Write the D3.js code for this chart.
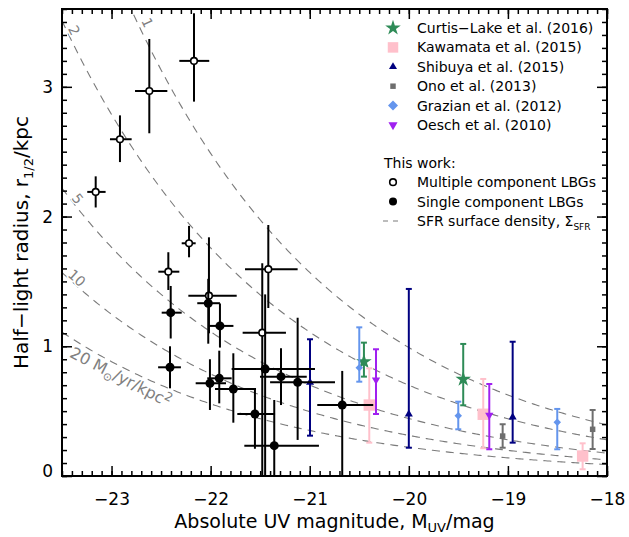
<!DOCTYPE html>
<meta charset="utf-8">
<head>
<script src="https://d3js.org/d3.v7.min.js"></script>
<style>
    html, body { margin: 0; padding: 0; background: #fff; }
    text { font-family: "DejaVu Sans", sans-serif; fill: #000; }
    .frame { fill: none; stroke: #000; stroke-width: 2px; }
    .axis path { display: none; }
    .axis line { stroke: #000; stroke-width: 1.5px; }
    .axis text { font-size: 17px; }
    .sfr { fill: none; stroke: #7a7a7a; stroke-width: 1.1px; stroke-dasharray: 8,6; }
    .sfr-label { font-size: 14px; fill: #808080; }
    .ebar { stroke-width: 2px; }
    .legend text { font-size: 14px; }
</style>
</head>
<body>
<div id="chart"></div>
<script>

/****************************
 data
****************************/
// This work: [M_UV, r, M_low, M_high, r_low, r_high]
var multiComp = [
    [-23.16, 2.19, -23.245, -23.06, 2.07, 2.31],
    [-22.915, 2.596, -23.016, -22.797, 2.42, 2.78],
    [-22.619, 2.968, -22.763, -22.437, 2.642, 3.369],
    [-22.168, 3.20, -22.316, -22.014, 2.886, 3.567],
    [-22.218, 1.794, -22.292, -22.151, 1.686, 1.928],
    [-22.427, 1.575, -22.528, -22.316, 1.434, 1.725],
    [-22.017, 1.39, -22.225, -21.737, 1.10, 1.84],
    [-21.418, 1.594, -21.653, -21.122, 1.295, 1.935],
    [-21.479, 1.105, -21.677, -21.24, 0.0, 1.64]
];
var singleComp = [
    [-22.024, 1.332, -22.135, -21.906, 1.02, 1.52],
    [-21.906, 1.157, -22.024, -21.77, 0.99, 1.33],
    [-22.403, 1.259, -22.494, -22.292, 1.06, 1.465],
    [-22.41, 0.838, -22.53, -22.30, 0.676, 1.0],
    [-22.007, 0.715, -22.151, -21.845, 0.509, 0.90],
    [-21.913, 0.753, -22.034, -21.788, 0.56, 0.966],
    [-21.771, 0.671, -21.956, -21.542, 0.411, 0.946],
    [-21.553, 0.478, -21.731, -21.35, 0.21, 0.67],
    [-21.45, 0.825, -21.788, -20.947, 0.0, 1.40],
    [-21.29, 0.766, -21.502, -21.03, 0.547, 0.985],
    [-21.122, 0.722, -21.40, -20.745, 0.278, 1.22],
    [-21.358, 0.234, -21.66, -20.907, 0.0, 0.586],
    [-20.672, 0.547, -20.924, -20.359, 0.0, 0.81]
];

// literature: [M_UV, r, r_low, r_high]
var curtisLake = [[-20.453, 0.881, 0.766, 1.028], [-19.451, 0.746, 0.545, 1.018]];
var kawamata   = [[-20.399, 0.547, 0.257, 0.830], [-19.249, 0.476, 0.214, 0.748], [-18.246, 0.154, 0.052, 0.252]];
var shibuya    = [[-20.997, 0.722, 0.311, 1.054], [-20.0, 0.476, 0.218, 1.442], [-18.952, 0.453, 0.257, 1.035]];
var ono        = [[-19.053, 0.308, 0.218, 0.399], [-18.145, 0.360, 0.208, 0.509]];
var grazian    = [[-20.5, 0.835, 0.727, 1.146], [-19.501, 0.465, 0.360, 0.573], [-18.502, 0.414, 0.206, 0.517]];
var oesch      = [[-20.331, 0.740, 0.478, 0.977], [-19.188, 0.470, 0.206, 0.709]];

var litNames = ["Curtis\u2212Lake et al. (2016)", "Kawamata et al. (2015)", "Shibuya et al. (2015)",
                "Ono et al. (2013)", "Grazian et al. (2012)", "Oesch et al. (2010)"];

// SFR surface density curves, M_sun/yr/kpc^2; r at M_UV=-20 for level 1
var sigmaLevels = [1, 2, 5, 10, 20];
var r1AtM20 = 0.99;

var xTicks = [-23, -22, -21, -20, -19, -18];
var yTicks = [0, 1, 2, 3];

/****************************
 frame
****************************/
var W = 629, H = 537;
var plot = {left: 62, right: 607, top: 9, bottom: 476};

var svg = d3.select("#chart").append("svg")
    .attr("width", W).attr("height", H);

var x = d3.scaleLinear().domain([-23.5, -18]).range([plot.left, plot.right]);
var y = d3.scaleLinear().domain([0, 3.6]).range([plot.bottom, plot.top]);

svg.append("clipPath").attr("id", "clip")
    .append("rect")
    .attr("x", plot.left).attr("y", plot.top)
    .attr("width", plot.right - plot.left).attr("height", plot.bottom - plot.top);

var inner = svg.append("g").attr("clip-path", "url(#clip)");

/****************************
 SFR surface density curves
****************************/
function sfrR(M, s) { return r1AtM20 * Math.pow(10, -0.2 * (M + 20)) / Math.sqrt(s); }
var mGrid = d3.range(-23.5, -17.99, 0.02);
var curve = d3.line().x(d => x(d[0])).y(d => y(d[1]));

inner.selectAll(".sfr")
    .data(sigmaLevels)
    .enter().append("path")
    .attr("class", "sfr")
    .attr("d", s => curve(mGrid.map(m => [m, sfrR(m, s)])));

// angle (deg) of a curve in screen space
function curveAngle(M, s) {
    var dx = x(M + 0.01) - x(M), dy = y(sfrR(M + 0.01, s)) - y(sfrR(M, s));
    return Math.atan2(dy, dx) * 180 / Math.PI;
}

// label: level, M along curve, perpendicular offset (px, negative = above)
var sfrLabels = [
    {s: 1,  M: -22.72, off: -9,  text: "1"},
    {s: 2,  M: -23.44, off: -7,  text: "2"},
    {s: 5,  M: -23.39, off: -6,  text: "5"},
    {s: 10, M: -23.39, off: -6,  text: "10"}
];

sfrLabels.forEach(function(l) {
    var a = curveAngle(l.M, l.s);
    svg.append("text")
        .attr("class", "sfr-label")
        .attr("transform", "translate(" + x(l.M) + "," + y(sfrR(l.M, l.s)) + ") rotate(" + a + ")")
        .attr("y", l.off)
        .attr("text-anchor", "middle")
        .attr("dominant-baseline", "central")
        .style("paint-order", "stroke")
        .style("stroke", "#fff").style("stroke-width", "3px")
        .text(l.text);
});

// long label under the 20 curve
(function() {
    var M0 = -23.37, a = curveAngle(-22.95, 20);
    var t = svg.append("text")
        .attr("class", "sfr-label")
        .style("font-size", "16px")
        .attr("transform", "translate(" + x(M0) + "," + y(sfrR(M0, 20)) + ") rotate(" + a + ")")
        .attr("y", 17)
        .attr("x", 2);
    t.append("tspan").text("20 M");
    t.append("tspan").attr("dy", 4).style("font-size", "11px").text("\u2299");
    t.append("tspan").attr("dy", -4).text("/yr/kpc");
    t.append("tspan").attr("dy", -6).style("font-size", "12px").text("2");
})();

/****************************
 literature points
****************************/
var litStyles = [
    {data: curtisLake, color: "#2e8b57", bar: "#2e8b57", sym: d3.symbolStar,     size: 75, rot: 0},
    {data: kawamata,   color: "#ffc0cb", bar: "#ffc0cb", sym: d3.symbolSquare,   size: 130, rot: 0},
    {data: shibuya,    color: "#000080", bar: "#000080", sym: d3.symbolTriangle, size: 28, rot: 0},
    {data: ono,        color: "#6e6e6e", bar: "#6e6e6e", sym: d3.symbolSquare,   size: 30, rot: 0},
    {data: grazian,    color: "#6495ed", bar: "#6495ed", sym: d3.symbolSquare,   size: 28, rot: 45},
    {data: oesch,      color: "#a020f0", bar: "#a020f0", sym: d3.symbolTriangle, size: 30, rot: 180}
];

var capW = 3;
litStyles.forEach(function(st) {
    var g = inner.append("g");
    var bars = g.selectAll(".bar").data(st.data).enter().append("g")
        .style("stroke", st.bar).attr("class", "ebar");
    bars.append("line")
        .attr("x1", d => x(d[0])).attr("x2", d => x(d[0]))
        .attr("y1", d => y(d[2])).attr("y2", d => y(d[3]));
    bars.append("line")
        .attr("x1", d => x(d[0]) - capW).attr("x2", d => x(d[0]) + capW)
        .attr("y1", d => y(d[2])).attr("y2", d => y(d[2]));
    bars.append("line")
        .attr("x1", d => x(d[0]) - capW).attr("x2", d => x(d[0]) + capW)
        .attr("y1", d => y(d[3])).attr("y2", d => y(d[3]));
    g.selectAll(".mk").data(st.data).enter().append("path")
        .attr("d", d3.symbol().type(st.sym).size(st.size))
        .attr("transform", d => "translate(" + x(d[0]) + "," + y(d[1]) + ") rotate(" + st.rot + ")")
        .style("fill", st.color);
});

/****************************
 this work
****************************/
function drawOwn(data) {
    var g = inner.append("g");
    var bars = g.selectAll(".bar").data(data).enter().append("g")
        .attr("class", "ebar").style("stroke", "#000");
    bars.append("line")
        .attr("x1", d => x(d[2])).attr("x2", d => x(d[3]))
        .attr("y1", d => y(d[1])).attr("y2", d => y(d[1]));
    bars.append("line")
        .attr("x1", d => x(d[0])).attr("x2", d => x(d[0]))
        .attr("y1", d => y(d[4])).attr("y2", d => y(d[5]));
    return g;
}
var gm = drawOwn(multiComp);
var gs = drawOwn(singleComp);
gs.selectAll("circle").data(singleComp).enter().append("circle")
    .attr("cx", d => x(d[0])).attr("cy", d => y(d[1])).attr("r", 4.5)
    .style("fill", "#000");
gm.selectAll("circle").data(multiComp).enter().append("circle")
    .attr("cx", d => x(d[0])).attr("cy", d => y(d[1])).attr("r", 3.3)
    .style("fill", "#fff").style("stroke", "#000").style("stroke-width", 1.6);

/****************************
 axes
****************************/
var xMinor = d3.range(-23.5, -17.95, 0.1);
var yMinor = d3.range(0, 3.61, 0.1);

svg.append("g").attr("class", "axis")
    .attr("transform", "translate(0," + plot.bottom + ")")
    .call(d3.axisBottom(x).tickValues(xMinor).tickSize(-5).tickFormat(""));
svg.append("g").attr("class", "axis")
    .attr("transform", "translate(0," + plot.bottom + ")")
    .call(d3.axisBottom(x).tickValues(xTicks).tickSize(-10).tickPadding(17)
        .tickFormat(d => d < 0 ? "\u2212" + Math.abs(d) : d));
svg.append("g").attr("class", "axis")
    .attr("transform", "translate(0," + plot.top + ")")
    .call(d3.axisTop(x).tickValues(xMinor).tickSize(-5).tickFormat(""));
svg.append("g").attr("class", "axis")
    .attr("transform", "translate(0," + plot.top + ")")
    .call(d3.axisTop(x).tickValues(xTicks).tickSize(-10).tickFormat(""));

svg.append("g").attr("class", "axis")
    .attr("transform", "translate(" + plot.left + ",0)")
    .call(d3.axisLeft(y).tickValues(yMinor).tickSize(-5).tickFormat(""));
var yAx = svg.append("g").attr("class", "axis")
    .attr("transform", "translate(" + plot.left + ",0)")
    .call(d3.axisLeft(y).tickValues(yTicks).tickSize(-10).tickPadding(9).tickFormat(d3.format("d")));
yAx.selectAll("text").filter(d => d === 0).attr("dy", "0.0em");
svg.append("g").attr("class", "axis")
    .attr("transform", "translate(" + plot.right + ",0)")
    .call(d3.axisRight(y).tickValues(yMinor).tickSize(-5).tickFormat(""));
svg.append("g").attr("class", "axis")
    .attr("transform", "translate(" + plot.right + ",0)")
    .call(d3.axisRight(y).tickValues(yTicks).tickSize(-10).tickFormat(""));

svg.append("rect").attr("class", "frame")
    .attr("x", plot.left).attr("y", plot.top)
    .attr("width", plot.right - plot.left).attr("height", plot.bottom - plot.top);

// axis titles
var xt = svg.append("text")
    .attr("x", (plot.left + plot.right) / 2).attr("y", 528)
    .attr("text-anchor", "middle").style("font-size", "19px");
xt.append("tspan").text("Absolute UV magnitude, M");
xt.append("tspan").attr("dy", 4).style("font-size", "13px").text("UV");
xt.append("tspan").attr("dy", -4).text("/mag");

var yt = svg.append("text")
    .attr("transform", "translate(28," + (plot.top + plot.bottom) / 2 + ") rotate(-90)")
    .attr("text-anchor", "middle").style("font-size", "20px");
yt.append("tspan").text("Half\u2212light radius, r");
yt.append("tspan").attr("dy", 5).style("font-size", "13px").text("1/2");
yt.append("tspan").attr("dy", -5).text("/kpc");

/****************************
 legend
****************************/
var leg = svg.append("g").attr("class", "legend");
var lx = 393, tx = 417, ly0 = 28, lstep = 19.4;

litStyles.forEach(function(st, i) {
    var yy = ly0 + i * lstep;
    var sz = [75, 110, 28, 30, 50, 36][i];
    leg.append("path")
        .attr("d", d3.symbol().type(st.sym).size(sz))
        .attr("transform", "translate(" + lx + "," + yy + ") rotate(" + st.rot + ")")
        .style("fill", st.color);
    leg.append("text").attr("x", tx).attr("y", yy).attr("dy", "0.36em").text(litNames[i]);
});

var yw = ly0 + 7 * lstep - 1;
leg.append("text").attr("x", 384).attr("y", yw).attr("dy", "0.36em").text("This work:");
leg.append("circle").attr("cx", lx).attr("cy", yw + lstep).attr("r", 3.3)
    .style("fill", "#fff").style("stroke", "#000").style("stroke-width", 1.6);
leg.append("text").attr("x", tx).attr("y", yw + lstep).attr("dy", "0.36em").text("Multiple component LBGs");
leg.append("circle").attr("cx", lx).attr("cy", yw + 2 * lstep).attr("r", 4)
    .style("fill", "#000");
leg.append("text").attr("x", tx).attr("y", yw + 2 * lstep).attr("dy", "0.36em").text("Single component LBGs");
leg.append("line")
    .attr("x1", lx - 10).attr("x2", lx + 10)
    .attr("y1", yw + 3 * lstep).attr("y2", yw + 3 * lstep)
    .attr("class", "sfr").style("stroke-dasharray", "5,5");
var st = leg.append("text").attr("x", tx).attr("y", yw + 3 * lstep).attr("dy", "0.36em");
st.append("tspan").text("SFR surface density, \u03A3");
st.append("tspan").attr("dy", 4).style("font-size", "9px").text("SFR");

</script>
</body>
